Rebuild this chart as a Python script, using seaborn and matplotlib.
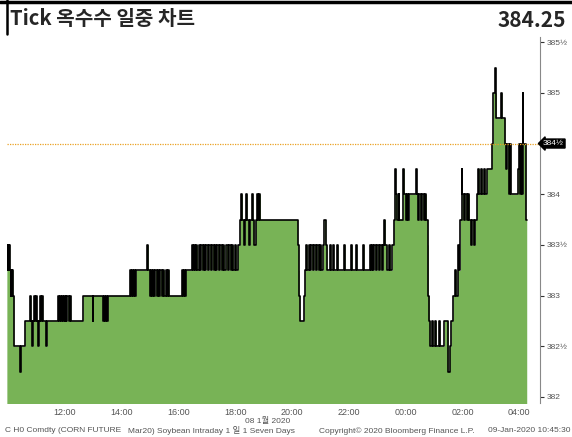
import pandas as pd
import seaborn as sns
import matplotlib.pyplot as plt
import matplotlib.dates as mdates
from matplotlib.lines import Line2D

# tick prices (cents) - time "HH:MM", price holds until next tick
tick_time = [
    "09:57", "09:58", "09:59", "10:00", "10:01", "10:02", "10:03", "10:05", "10:06", "10:07", "10:08", "10:10",
    "10:12", "10:24", "10:26", "10:35",
    "10:46", "10:48", "10:50", "10:52", "10:54", "10:56", "10:58", "11:00", "11:03", "11:05", "11:07", "11:09",
    "11:11", "11:13", "11:20", "11:22",
    "11:45", "11:47", "11:49", "11:51", "11:53", "11:55", "11:57", "11:59", "12:01", "12:03", "12:05", "12:08",
    "12:10", "12:12",
    "12:38", "12:59", "13:00", "13:20", "13:22", "13:25", "13:27", "13:29", "13:30",
    "14:17", "14:19", "14:21", "14:23", "14:25", "14:28", "14:30", "14:54", "14:56",
    "15:00", "15:02", "15:04", "15:06", "15:09", "15:11", "15:14", "15:16", "15:19", "15:21", "15:24", "15:27",
    "15:30", "15:33", "15:36", "15:38", "15:40",
    "16:07", "16:09", "16:11", "16:13", "16:15", "16:28", "16:30", "16:32", "16:34", "16:36",
    "16:40", "16:43", "16:46", "16:48", "16:51", "16:54", "16:56", "16:59", "17:02", "17:05", "17:08", "17:11",
    "17:14", "17:16", "17:19", "17:22", "17:25", "17:28", "17:31", "17:34", "17:37", "17:40", "17:44", "17:47",
    "17:50", "17:53", "17:56", "17:59", "18:02", "18:05",
    "18:10", "18:13", "18:15", "18:18", "18:20", "18:23", "18:25", "18:28", "18:31", "18:35", "18:37", "18:40",
    "18:43", "18:46", "18:48", "18:51", "18:53",
    "20:12", "20:14", "20:15", "20:17", "20:25", "20:27",
    "20:30", "20:32", "20:35", "20:38", "20:41", "20:44", "20:47", "20:50", "20:53", "20:56", "20:59", "21:02",
    "21:06", "21:08", "21:11", "21:14",
    "21:20", "21:22", "21:26", "21:28", "21:35", "21:37", "21:50", "21:52", "22:05", "22:07", "22:15", "22:17",
    "22:30", "22:32",
    "22:44", "22:46", "22:48", "22:51", "22:54", "22:57", "23:00", "23:03", "23:06", "23:09", "23:12", "23:15",
    "23:17", "23:20", "23:24", "23:28", "23:32", "23:35",
    "23:37", "23:39", "23:42", "23:45", "23:47", "23:55", "23:57", "00:00", "00:02", "00:05", "00:08", "00:21",
    "00:23", "00:26", "00:29", "00:32", "00:35", "00:38", "00:41", "00:44", "00:47",
    "00:48", "00:50", "00:52", "00:55", "00:58", "01:02", "01:05", "01:10", "01:13", "01:22", "01:30", "01:33",
    "01:36", "01:40",
    "01:44", "01:47", "01:50", "01:53", "01:56",
    "01:59", "02:00", "02:03", "02:06", "02:09", "02:12", "02:15", "02:18", "02:21", "02:24", "02:27",
    "02:30", "02:34", "02:36", "02:40", "02:42", "02:46", "02:48", "02:52", "03:02",
    "03:05", "03:08", "03:10", "03:12", "03:22", "03:24", "03:30",
    "03:33", "03:35", "03:38", "03:40", "03:42", "03:57", "03:59", "04:01", "04:03", "04:05", "04:07", "04:08",
    "04:09", "04:14", "04:16",
]
tick_price = [
    383.25, 383.5, 383.25, 383.5, 383.25, 383.5, 383.25, 383.0, 383.25, 383.0, 383.25, 383.0,
    382.5, 382.25, 382.5, 382.75,
    383.0, 382.75, 382.5, 382.75, 383.0, 382.75, 383.0, 382.75, 382.5, 382.75, 383.0, 382.75,
    383.0, 382.75, 382.5, 382.75,
    383.0, 382.75, 383.0, 382.75, 383.0, 382.75, 383.0, 382.75, 383.0, 382.75, 383.0, 382.75,
    383.0, 382.75,
    383.0, 382.75, 383.0, 382.75, 383.0, 382.75, 383.0, 382.75, 383.0,
    383.25, 383.0, 383.25, 383.0, 383.25, 383.0, 383.25, 383.5, 383.25,
    383.0, 383.25, 383.0, 383.25, 383.0, 383.25, 383.0, 383.25, 383.0, 383.25, 383.0, 383.25,
    383.0, 383.25, 383.0, 383.25, 383.0,
    383.25, 383.0, 383.25, 383.0, 383.25, 383.5, 383.25, 383.5, 383.25, 383.5,
    383.25, 383.5, 383.25, 383.5, 383.25, 383.5, 383.25, 383.5, 383.25, 383.5, 383.25, 383.5,
    383.25, 383.5, 383.25, 383.5, 383.25, 383.5, 383.25, 383.5, 383.25, 383.5, 383.25, 383.5,
    383.25, 383.5, 383.25, 383.5, 383.25, 383.5,
    383.75, 384.0, 383.75, 383.5, 383.75, 384.0, 383.75, 383.5, 383.75, 384.0, 383.75, 383.5,
    383.75, 384.0, 383.75, 384.0, 383.75,
    383.5, 383.25, 383.0, 382.75, 383.0, 383.25,
    383.5, 383.25, 383.5, 383.25, 383.5, 383.25, 383.5, 383.25, 383.5, 383.25, 383.5, 383.25,
    383.5, 383.75, 383.5, 383.25,
    383.5, 383.25, 383.5, 383.25, 383.5, 383.25, 383.5, 383.25, 383.5, 383.25, 383.5, 383.25,
    383.5, 383.25,
    383.5, 383.25, 383.5, 383.25, 383.5, 383.25, 383.5, 383.25, 383.5, 383.25, 383.5, 383.75,
    383.5, 383.25, 383.5, 383.25, 383.5, 383.75,
    384.25, 384.0, 383.75, 384.0, 383.75, 384.25, 384.0, 383.75, 384.0, 383.75, 384.0, 384.25,
    384.0, 383.75, 384.0, 383.75, 384.0, 383.75, 384.0, 383.75, 383.5,
    383.0, 382.75, 382.5, 382.75, 382.5, 382.75, 382.5, 382.75, 382.5, 382.75, 382.25, 382.5,
    382.75, 383.0,
    383.25, 383.0, 383.5, 383.25, 383.75,
    384.25, 384.0, 383.75, 384.0, 383.75, 384.0, 383.75, 383.5, 383.75, 383.5, 383.75,
    384.0, 384.25, 384.0, 384.25, 384.0, 384.25, 384.0, 384.25, 384.5,
    385.0, 385.25, 385.0, 384.75, 385.0, 384.75, 384.5,
    384.25, 384.5, 384.0, 384.5, 384.0, 384.25, 384.5, 384.0, 384.5, 384.25, 384.0, 385.0,
    384.5, 383.75, 383.75,
]
y_ticks = [382.0, 382.5, 383.0, 383.5, 384.0, 384.5, 385.0, 385.5]
last_line = 384.5
last_text = "384.25"

# build timestamps, rolling over midnight
stamps = []
day = pd.Timestamp("2020-01-08")
prev = None
for t in tick_time:
    ts = day + pd.Timedelta(hours=int(t[:2]), minutes=int(t[3:]))
    if prev is not None and ts < prev:
        day = day + pd.Timedelta(days=1)
        ts = ts + pd.Timedelta(days=1)
    stamps.append(ts)
    prev = ts
df = pd.DataFrame({"time": stamps, "price": tick_price})

sns.set_style("white")
plt.rcParams['font.family'] = ['Liberation Sans', 'Noto Sans CJK KR', 'DejaVu Sans']

fig = plt.figure(figsize=(5.72, 4.37), dpi=100)
ax = fig.add_axes([0.012, 0.078, 0.932, 0.837])

ax.fill_between(df["time"], df["price"], 381.0, step="post", color="#78b356", lw=0)
sns.lineplot(data=df, x="time", y="price", ax=ax, color="black", lw=1.2,
             drawstyle="steps-post", estimator=None, sort=False)

ax.set_xlim(pd.Timestamp("2020-01-08 09:57"), pd.Timestamp("2020-01-09 04:44"))
ax.set_ylim(381.94, 385.55)
ax.set_xlabel("")
ax.set_ylabel("")

ax.axhline(last_line, color="#eba122", lw=0.9, ls=(0, (1, 1)))

# right price axis (label under the last-price box is hidden)
ax.yaxis.tick_right()
ax.set_yticks(y_ticks)
ax.set_yticklabels(["" if v == last_line else (f"{int(v)}" if v == int(v) else f"{int(v)}½")
                    for v in y_ticks])
ax.tick_params(axis="y", which="major", direction="out", length=3, width=0.8, color="#333333",
               labelsize=6, labelcolor="#555555", pad=1.5)
ax.text(1.006, last_line, "384½", transform=ax.get_yaxis_transform(), ha="left", va="center",
        color="white", fontsize=6, bbox=dict(boxstyle="larrow,pad=0.12", fc="black", ec="black"))

# time axis
ax.xaxis.set_major_locator(mdates.HourLocator(byhour=[0, 2, 4, 12, 14, 16, 18, 20, 22]))
ax.xaxis.set_minor_locator(mdates.HourLocator())
ax.xaxis.set_major_formatter(mdates.DateFormatter("%H:%M"))
ax.tick_params(axis="x", which="both", direction="out", length=2, width=0.6, color="#777777",
               labelsize=6.5, labelcolor="#555555", pad=1.5)
ax.tick_params(axis="x", which="minor", length=1.5)

for s in ["top", "left", "bottom"]:
    ax.spines[s].set_visible(False)
ax.spines["right"].set_color("#888888")
ax.spines["right"].set_linewidth(0.8)

# title box
fig.add_artist(Line2D([0, 1], [0.996, 0.996], transform=fig.transFigure, color="black", lw=2.5))
fig.add_artist(Line2D([0.012, 0.012], [1, 0.922], transform=fig.transFigure, color="black", lw=1.8))
fig.text(0.018, 0.958, "Tick 옥수수 일중 차트", fontsize=14.5, fontweight="bold",
         family=["Noto Sans CJK KR", "DejaVu Sans"], ha="left", va="center")
fig.text(0.99, 0.953, last_text, fontsize=15, fontweight="bold",
         family=["Noto Sans CJK KR", "DejaVu Sans"], ha="right", va="center")

# footer
fig.text(0.468, 0.037, "08 1월 2020", fontsize=6, color="#555555", ha="center", va="center")
fig.text(0.008, 0.014, "C H0 Comdty (CORN FUTURE", fontsize=6, color="#555555", va="center")
fig.text(0.224, 0.014, "Mar20) Soybean Intraday 1 일 1 Seven Days", fontsize=6, color="#555555", va="center")
fig.text(0.558, 0.014, "Copyright© 2020 Bloomberg Finance L.P.", fontsize=6, color="#555555", va="center")
fig.text(0.998, 0.014, "09-Jan-2020 10:45:30", fontsize=6, color="#555555", ha="right", va="center")

fig.savefig("out.png", dpi=100)
